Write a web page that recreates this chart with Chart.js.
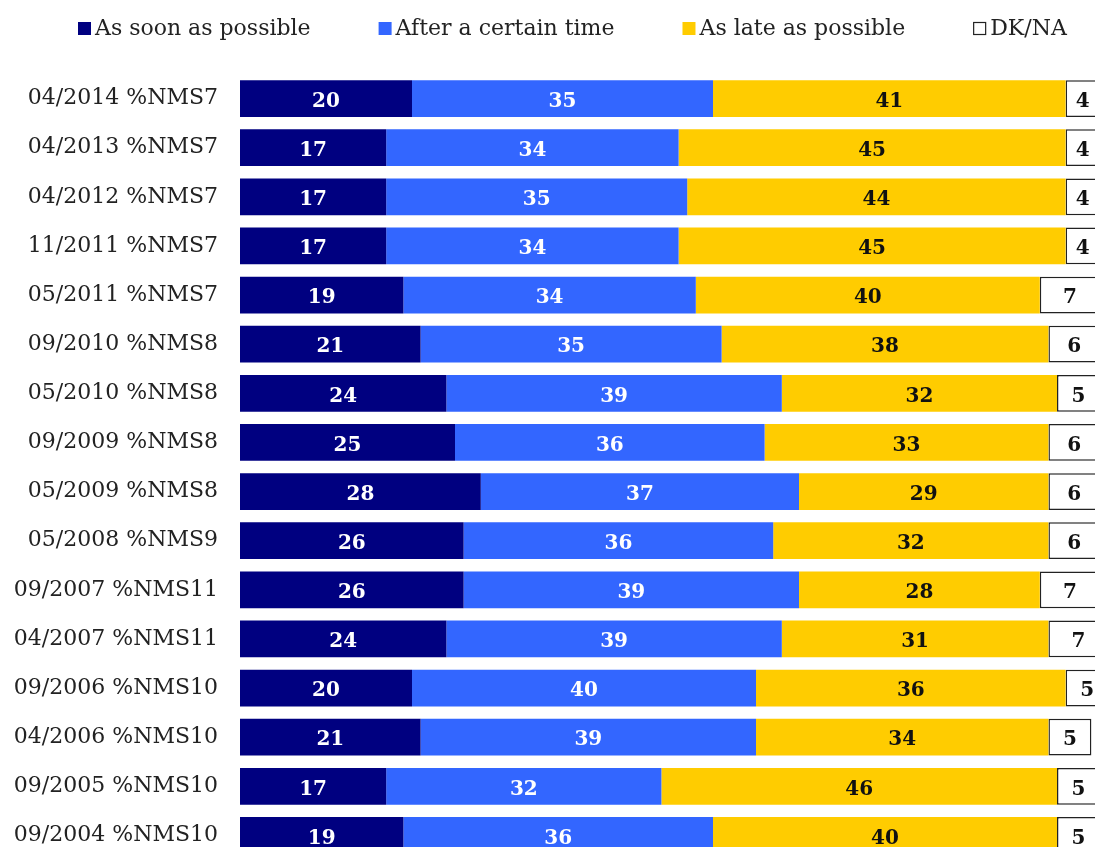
<!DOCTYPE html>
<html>
<head>
<meta charset="utf-8">
<script src="https://cdn.jsdelivr.net/npm/chart.js@4/dist/chart.umd.min.js"></script>
<style>
  html, body { margin: 0; padding: 0; overflow: hidden; background: #fff; }
  /* the plot runs a little past the window, as in the source picture */
  #chart { display: block; width: 1100px; height: 860px; }
</style>
</head>
<body>
<canvas id="chart" width="1100" height="860"></canvas>
<script>
// Survey waves (top to bottom)
const periods = [
  "04/2014 %NMS7", "04/2013 %NMS7", "04/2012 %NMS7", "11/2011 %NMS7",
  "05/2011 %NMS7", "09/2010 %NMS8", "05/2010 %NMS8", "09/2009 %NMS8",
  "05/2009 %NMS8", "05/2008 %NMS9", "09/2007 %NMS11", "04/2007 %NMS11",
  "09/2006 %NMS10", "04/2006 %NMS10", "09/2005 %NMS10", "09/2004 %NMS10"
];

// Answers, in %
const asSoon    = [20, 17, 17, 17, 19, 21, 24, 25, 28, 26, 26, 24, 20, 21, 17, 19];
const afterTime = [35, 34, 35, 34, 34, 35, 39, 36, 37, 36, 39, 39, 40, 39, 32, 36];
const asLate    = [41, 45, 44, 45, 40, 38, 32, 33, 29, 32, 28, 31, 36, 34, 46, 40];
const dkna      = [4, 4, 4, 4, 7, 6, 5, 6, 6, 6, 7, 7, 5, 5, 5, 5];

const FONT = '"DejaVu Serif", Georgia, serif';

// Legend drawn above the plot: small square + text, items in a row
const topLegend = {
  id: "topLegend",
  afterDraw(chart) {
    const ctx = chart.ctx;
    ctx.save();
    ctx.font = "22px " + FONT;
    ctx.textBaseline = "middle";
    ctx.textAlign = "left";
    let x = 78;
    const y = 28;
    chart.data.datasets.forEach((ds) => {
      ctx.fillStyle = ds.backgroundColor;
      ctx.fillRect(x, y - 6, 13, 13);
      if (ds.borderWidth) {
        ctx.strokeStyle = ds.borderColor;
        ctx.lineWidth = 1.2;
        ctx.strokeRect(x + 0.5, y - 5.5, 12, 12);
      }
      ctx.fillStyle = "#222";
      ctx.fillText(ds.label, x + 17, y + 1);
      x += 17 + ctx.measureText(ds.label).width + 68;
    });
    ctx.restore();
  },
};

// Value written in the middle of each segment
const barLabels = {
  id: "barLabels",
  afterDatasetsDraw(chart) {
    const ctx = chart.ctx;
    ctx.save();
    ctx.font = "bold 20px " + FONT;
    ctx.textAlign = "center";
    ctx.textBaseline = "middle";
    chart.data.datasets.forEach((ds, i) => {
      const meta = chart.getDatasetMeta(i);
      meta.data.forEach((bar, j) => {
        ctx.fillStyle = ds.labelColor;
        ctx.fillText(ds.data[j], (bar.x + bar.base) / 2, bar.y + 3);
      });
    });
    ctx.restore();
  },
};

const ctx = document.getElementById("chart").getContext("2d");

new Chart(ctx, {
  type: "bar",
  data: {
    labels: periods,
    datasets: [
      { label: "As soon as possible", data: asSoon, backgroundColor: "#000080", labelColor: "#fff", borderWidth: 0 },
      { label: "After a certain time", data: afterTime, backgroundColor: "#3366ff", labelColor: "#fff", borderWidth: 0 },
      { label: "As late as possible", data: asLate, backgroundColor: "#ffcc00", labelColor: "#111", borderWidth: 0 },
      {
        label: "DK/NA", data: dkna, backgroundColor: "#ffffff", labelColor: "#111",
        borderColor: "#222", borderWidth: 1.5, borderSkipped: false,
      },
    ],
  },
  options: {
    indexAxis: "y",
    responsive: false,
    animation: false,
    barPercentage: 0.75,
    categoryPercentage: 1,
    layout: { autoPadding: false, padding: { top: 74, left: 0, right: 0, bottom: 0 } },
    plugins: {
      legend: { display: false },
      tooltip: { enabled: false },
    },
    scales: {
      x: { stacked: true, min: 0, max: 100, display: false },
      y: {
        stacked: true,
        grid: { display: false },
        border: { display: false },
        ticks: { color: "#222", padding: 14, font: { family: FONT, size: 22 } },
        afterFit(scale) {
          scale.width = 240;
          // no extra room under the last row: it runs off the bottom
          scale.paddingTop = 0;
          scale.paddingBottom = 0;
        },
      },
    },
  },
  plugins: [topLegend, barLabels],
});
</script>
</body>
</html>
